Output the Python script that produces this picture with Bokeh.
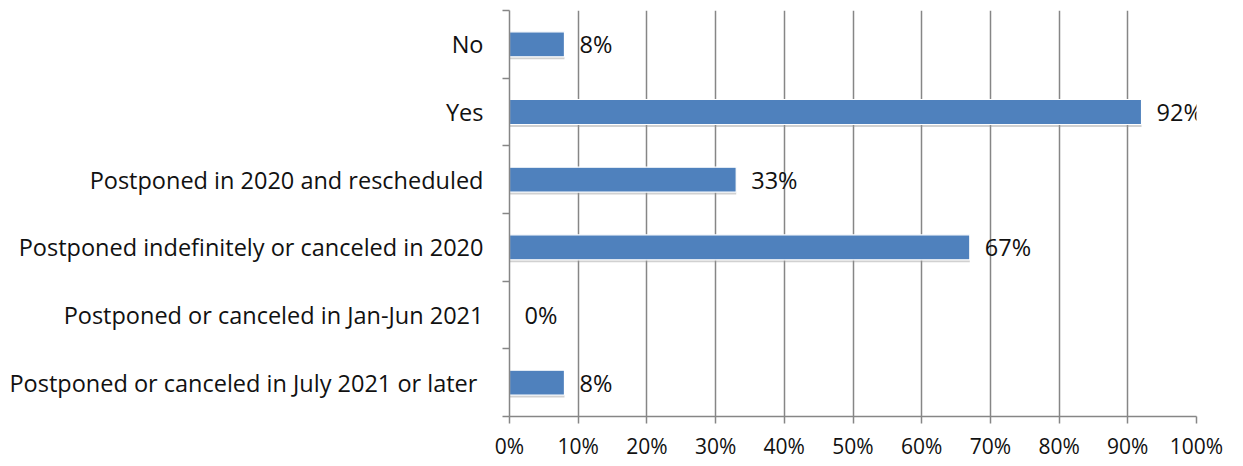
from bokeh.plotting import figure
from bokeh.models import ColumnDataSource, FixedTicker, NumeralTickFormatter, LabelSet, Range1d
from bokeh.transform import dodge
from bokeh.core.properties import value
from bokeh.embed import file_html
from bokeh.resources import INLINE

categories = ["No", "Yes", "Postponed in 2020 and rescheduled",
              "Postponed indefinitely or canceled in 2020",
              "Postponed or canceled in Jan-Jun 2021",
              "Postponed or canceled in July 2021 or later "]
values = [0.08, 0.92, 0.33, 0.67, 0.0, 0.08]
labels = ["8%", "92%", "33%", "67%", "0%", "8%"]
x_ticks = [0, 0.1, 0.2, 0.3, 0.4, 0.5, 0.6, 0.7, 0.8, 0.9, 1.0]

n = len(categories)
ypos = [n - i - 0.5 for i in range(n)]
src = ColumnDataSource(dict(y=ypos, v=values, lab=labels, cat=categories))

FONT = "Open Sans"
FS = "23.5px"

p = figure(width=1235, height=462, output_backend="svg", toolbar_location=None,
           x_range=Range1d(0, 1), y_range=Range1d(0, n),
           min_border_left=509, min_border_right=39, min_border_top=10, min_border_bottom=46)
p.outline_line_color = None

# shadow
p.hbar(y=dodge("y", -0.035, range=p.y_range), right="v", left=0, height=0.37, source=src,
       fill_color="#9a9a9a", fill_alpha=0.45, line_color=None)
p.hbar(y="y", right="v", left=0, height=0.37, source=src,
       fill_color="#4F81BD", line_color="white", line_width=1.2)

p.add_layout(LabelSet(x="v", y="y", text="lab", source=src, x_offset=15, y_offset=0,
                      text_baseline="middle", text_font=value(FONT), text_font_size=FS,
                      text_color="#111111"))

p.xaxis.ticker = FixedTicker(ticks=x_ticks)
p.xaxis.formatter = NumeralTickFormatter(format="0%")
p.xaxis.major_label_text_font = FONT
p.xaxis.major_label_text_font_size = "21px"
p.xaxis.major_label_text_color = "#111111"
p.xaxis.axis_line_color = "#868686"
p.xaxis.axis_line_width = 1.5
p.xaxis.major_tick_line_color = "#868686"
p.xaxis.major_tick_line_width = 1.5
p.xaxis.major_tick_out = 7
p.xaxis.major_tick_in = 0
p.xaxis.minor_tick_line_color = None
p.xaxis.major_label_standoff = 8

p.yaxis.ticker = FixedTicker(ticks=ypos, minor_ticks=list(range(n + 1)))
p.yaxis.major_label_overrides = {y: c for y, c in zip(ypos, categories)}
p.yaxis.major_label_text_font = FONT
p.yaxis.major_label_text_font_size = FS
p.yaxis.major_label_text_color = "#111111"
p.yaxis.axis_line_color = "#868686"
p.yaxis.axis_line_width = 1.5
p.yaxis.major_tick_line_color = None
p.yaxis.major_tick_out = 0
p.yaxis.major_tick_in = 0
p.yaxis.minor_tick_line_color = "#868686"
p.yaxis.minor_tick_line_width = 1.5
p.yaxis.minor_tick_out = 7
p.yaxis.minor_tick_in = 0
p.yaxis.major_label_standoff = 19

p.xgrid.grid_line_color = "#868686"
p.xgrid.grid_line_width = 1.5
p.ygrid.grid_line_color = None

open("out.html", "w").write(file_html(p, INLINE))
